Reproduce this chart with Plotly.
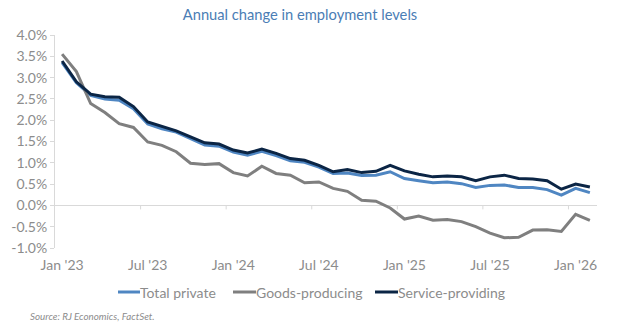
import plotly.graph_objects as go

months = ["Jan '23","Feb '23","Mar '23","Apr '23","May '23","Jun '23","Jul '23","Aug '23","Sep '23","Oct '23","Nov '23","Dec '23",
          "Jan '24","Feb '24","Mar '24","Apr '24","May '24","Jun '24","Jul '24","Aug '24","Sep '24","Oct '24","Nov '24","Dec '24",
          "Jan '25","Feb '25","Mar '25","Apr '25","May '25","Jun '25","Jul '25","Aug '25","Sep '25","Oct '25","Nov '25","Dec '25",
          "Jan '26","Feb '26"]

total_private = [3.35, 2.88, 2.58, 2.50, 2.47, 2.27, 1.91, 1.80, 1.72, 1.57, 1.42, 1.39,
                 1.25, 1.18, 1.27, 1.17, 1.05, 1.01, 0.90, 0.75, 0.76, 0.70, 0.71, 0.79,
                 0.63, 0.58, 0.53, 0.55, 0.51, 0.42, 0.47, 0.48, 0.42, 0.42, 0.37, 0.24,
                 0.40, 0.30]
goods_producing = [3.55, 3.14, 2.39, 2.18, 1.92, 1.83, 1.49, 1.41, 1.26, 0.99, 0.96, 0.98,
                   0.77, 0.69, 0.92, 0.75, 0.71, 0.53, 0.55, 0.40, 0.33, 0.12, 0.10, -0.06,
                   -0.32, -0.25, -0.35, -0.33, -0.38, -0.50, -0.65, -0.76, -0.75, -0.58, -0.57, -0.61,
                   -0.21, -0.35]
service_providing = [3.39, 2.90, 2.61, 2.55, 2.54, 2.32, 1.96, 1.85, 1.75, 1.61, 1.47, 1.44,
                     1.30, 1.23, 1.32, 1.22, 1.10, 1.06, 0.94, 0.79, 0.84, 0.77, 0.80, 0.94,
                     0.81, 0.73, 0.67, 0.69, 0.67, 0.58, 0.67, 0.71, 0.63, 0.62, 0.58, 0.38,
                     0.50, 0.43]

series_names = ["Total private", "Goods-producing", "Service-providing"]
series_colors = ["#4f86c2", "#7f7f7f", "#0b2545"]
x_tick_labels = ["Jan '23", "Jul '23", "Jan '24", "Jul '24", "Jan '25", "Jul '25", "Jan '26"]
y_ticks = [-1.0, -0.5, 0.0, 0.5, 1.0, 1.5, 2.0, 2.5, 3.0, 3.5, 4.0]

idx = list(range(len(months)))
tick_pos = [months.index(m) for m in x_tick_labels]

FONT = "Lato"
GREY = "#8c8c8c"

# plot area in pixels
L, R, T, B = 55, 27, 35, 85
W, H = 624, 333
PW, PH = W - L - R, H - T - B


def px_x(px):
    return (px - L) / PW


def px_y(py):
    return (H - B - py) / PH


fig = go.Figure()
for name, vals, col in zip(series_names, [total_private, goods_producing, service_providing], series_colors):
    fig.add_trace(go.Scatter(x=idx, y=vals, mode="lines", name=name,
                             line=dict(color=col, width=3), customdata=months,
                             hovertemplate="%{customdata}: %{y:.2f}%<extra>" + name + "</extra>"))

# category boundary tick marks along the zero line
for k in range(6, len(months), 6):
    fig.add_shape(type="line", xref="x", yref="y", x0=k - 0.5, x1=k - 0.5,
                  ysizemode="pixel", yanchor=0, y0=0, y1=-4,
                  line=dict(color="#d9d9d9", width=1), layer="below")

# custom legend (line sample directly followed by label)
legend_line_px = [(118, 140), (233, 256), (375, 398)]
legend_y = 292
annotations = []
for name, col, (a, b) in zip(series_names, series_colors, legend_line_px):
    fig.add_shape(type="line", xref="paper", yref="paper", x0=px_x(a), x1=px_x(b),
                  y0=px_y(legend_y), y1=px_y(legend_y), line=dict(color=col, width=3))
    annotations.append(dict(text=name, xref="paper", yref="paper", x=px_x(b), y=px_y(legend_y),
                            xanchor="left", yanchor="middle", showarrow=False, xshift=-2,
                            font=dict(size=14, color=GREY, family=FONT)))

annotations.append(dict(text="<i>Source: RJ Economics, FactSet.</i>", xref="paper", yref="paper",
                        x=px_x(28), y=px_y(316), xanchor="left", yanchor="middle",
                        showarrow=False, font=dict(size=9.8, color=GREY, family=FONT)))

fig.update_layout(
    width=W, height=H,
    margin=dict(l=L, r=R, t=T, b=B),
    paper_bgcolor="white", plot_bgcolor="white",
    font=dict(family=FONT, color=GREY, size=14),
    showlegend=False,
    title=dict(text="Annual change in employment levels", x=300 / W, xref="container",
               xanchor="center", y=1 - 15 / H, yref="container", yanchor="middle",
               font=dict(family=FONT, size=14.7, color="#4a7db5")),
    xaxis=dict(range=[-0.5, len(months) - 0.5], tickvals=tick_pos, ticktext=x_tick_labels,
               showgrid=False, zeroline=False, showline=False, ticks="",
               ticklabelstandoff=7, tickfont=dict(size=14, color=GREY)),
    yaxis=dict(range=[-1.0, 4.0], tickvals=y_ticks,
               ticktext=[f"{v:.1f}%" for v in y_ticks],
               showgrid=False, zeroline=True, zerolinecolor="#d9d9d9", zerolinewidth=1,
               showline=True, linecolor="#d9d9d9", linewidth=1,
               ticks="outside", ticklen=4, tickcolor="#d9d9d9",
               tickfont=dict(size=14, color=GREY)),
    annotations=annotations,
)

fig.write_html("out.html")
